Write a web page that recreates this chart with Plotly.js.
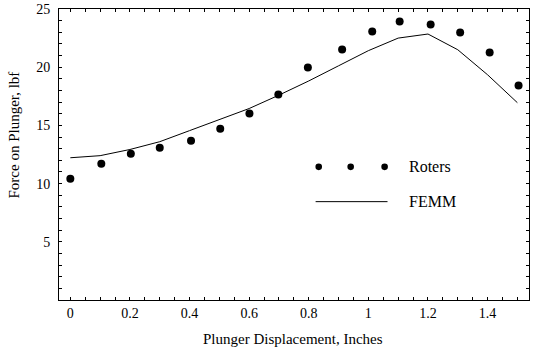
<!DOCTYPE html>
<html>
<head>
<meta charset="utf-8">
<script src="https://cdn.plot.ly/plotly-3.0.1.min.js"></script>
<style>html,body{margin:0;padding:0;background:#fff;}#chart{width:546px;height:359px;}</style>
</head>
<body>
<div id="chart"></div>
<script>
// Roters (measured points)
const rotersX = [0, 0.104, 0.203, 0.3, 0.405, 0.503, 0.601, 0.698, 0.797, 0.912, 1.013, 1.105, 1.209, 1.308, 1.407, 1.504];
const rotersY = [10.41, 11.70, 12.56, 13.08, 13.68, 14.71, 16.02, 17.65, 19.98, 21.53, 23.07, 23.93, 23.66, 22.98, 21.27, 18.43];
// FEMM (computed curve)
const femmX = [0, 0.1, 0.2, 0.3, 0.4, 0.5, 0.6, 0.7, 0.8, 0.9, 1.0, 1.1, 1.2, 1.3, 1.4, 1.5];
const femmY = [12.22, 12.40, 12.93, 13.60, 14.55, 15.50, 16.45, 17.60, 18.82, 20.12, 21.42, 22.50, 22.85, 21.50, 19.35, 16.95];
// Axis ticks
const xTickVals = [0, 0.2, 0.4, 0.6, 0.8, 1, 1.2, 1.4];
const xTickText = ["0", "0.2", "0.4", "0.6", "0.8", "1", "1.2", "1.4"];
const yTickVals = [5, 10, 15, 20, 25];
const yTickText = ["5", "10", "15", "20", "25"];
const legendNames = ["Roters", "FEMM"];

const FONT = "Liberation Serif";

const traces = [
  {x: femmX, y: femmY, mode: "lines", type: "scatter", name: legendNames[1],
   line: {color: "#000", width: 1}, hoverinfo: "skip"},
  {x: rotersX, y: rotersY, mode: "markers", type: "scatter", name: legendNames[0],
   marker: {color: "#000", size: 8, symbol: "circle"}, hoverinfo: "skip"}
];

const dotShape = (px) => ({
  type: "circle", xref: "paper", yref: "paper", xsizemode: "pixel", ysizemode: "pixel",
  xanchor: px, yanchor: 0.4575, x0: -3.3, x1: 3.3, y0: -3.3, y1: 3.3,
  fillcolor: "#000", line: {width: 0}
});

const axisCommon = {
  showgrid: false, zeroline: false, showline: true, linecolor: "#000", linewidth: 1,
  mirror: "allticks", ticks: "inside", ticklen: 3, tickwidth: 1, tickcolor: "#000",
  tickfont: {family: FONT, size: 14, color: "#000"}, tickmode: "array"
};

const layout = {
  width: 546, height: 359,
  margin: {l: 59, r: 17, t: 9, b: 59, pad: 0},
  paper_bgcolor: "#fff", plot_bgcolor: "#fff",
  showlegend: false,
  font: {family: FONT, size: 14, color: "#000"},
  xaxis: Object.assign({}, axisCommon, {
    range: [-0.038, 1.539], tickvals: xTickVals, ticktext: xTickText,
    minor: {dtick: 0.05, tick0: 0, ticks: "inside", ticklen: 3, tickwidth: 1, tickcolor: "#000", showgrid: false}
  }),
  yaxis: Object.assign({}, axisCommon, {
    range: [0, 25], tickvals: yTickVals, ticktext: yTickText, ticklabelstandoff: 5,
    minor: {dtick: 1, tick0: 0, ticks: "inside", ticklen: 3, tickwidth: 1, tickcolor: "#000", showgrid: false}
  }),
  shapes: [
    dotShape(0.5526), dotShape(0.6206), dotShape(0.6928),
    {type: "line", xref: "paper", yref: "paper", x0: 0.546, x1: 0.699, y0: 0.338, y1: 0.338,
     line: {color: "#000", width: 1}}
  ],
  annotations: [
    {text: legendNames[0], xref: "paper", yref: "paper", x: 0.7404, y: 0.4575, xanchor: "left", yanchor: "middle",
     showarrow: false, font: {family: FONT, size: 16, color: "#000"}},
    {text: legendNames[1], xref: "paper", yref: "paper", x: 0.741, y: 0.338, xanchor: "left", yanchor: "middle",
     showarrow: false, font: {family: FONT, size: 16, color: "#000"}},
    {text: "Plunger Displacement, Inches", xref: "paper", yref: "paper", x: 0.4977, y: -0.134,
     xanchor: "center", yanchor: "middle", showarrow: false, font: {family: FONT, size: 15, color: "#000"}},
    {text: "Force on Plunger, lbf", xref: "paper", yref: "paper", x: -0.0964, y: 0.5676, textangle: -90,
     xanchor: "center", yanchor: "middle", showarrow: false, font: {family: FONT, size: 15, color: "#000"}}
  ]
};

Plotly.newPlot("chart", traces, layout, {staticPlot: true, displayModeBar: false});
</script>
</body>
</html>
